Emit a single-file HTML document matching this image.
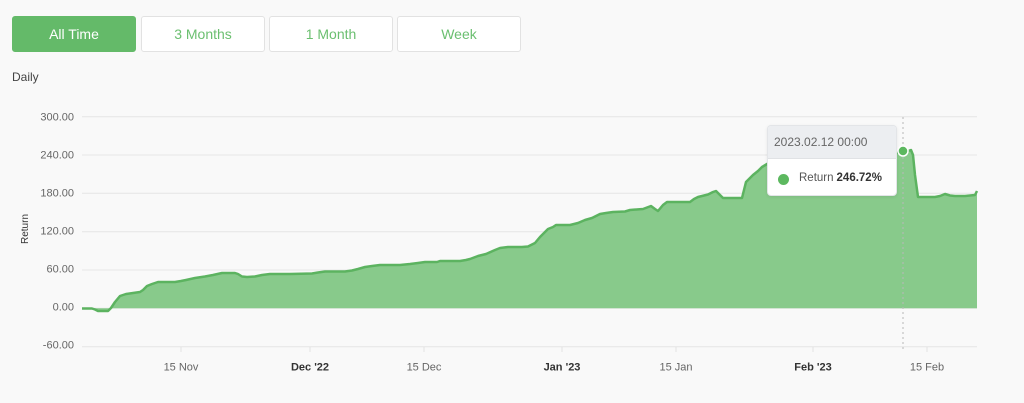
<!DOCTYPE html>
<html>
<head>
<meta charset="utf-8">
<style>
  html,body{margin:0;padding:0;}
  body{width:1024px;height:403px;background:#f9f9f9;font-family:"Liberation Sans",sans-serif;position:relative;overflow:hidden;}
  .btn{position:absolute;top:16px;height:36px;width:124px;box-sizing:border-box;border:1px solid #e2e2e2;border-radius:3px;background:#fff;color:#6bbf70;font-size:14px;line-height:34px;text-align:center;}
  .btn.active{background:#64ba69;border-color:#64ba69;color:#fff;}
  .daily{position:absolute;left:12px;top:70px;font-size:12px;color:#444;}
  svg{position:absolute;left:0;top:0;}
  .tip{position:absolute;left:767px;top:125px;width:130px;height:71px;box-sizing:border-box;background:#fff;border:1px solid #e3e5e8;border-radius:4px;box-shadow:0 1px 3px rgba(0,0,0,0.08);overflow:hidden;}
  .tip .hd{height:32px;background:#eceef1;border-bottom:1px solid #e0e2e5;font-size:12px;color:#666;line-height:32px;padding-left:6px;}
  .tip .bd{position:relative;height:38px;font-size:11.5px;color:#555;}
  .tip .dot{position:absolute;left:10px;top:15px;width:11px;height:11px;border-radius:50%;background:#5cb85f;}
  .tip .lab{position:absolute;left:31px;top:13px;}
  .tip .val{font-weight:bold;color:#333;margin-left:3px;}
</style>
</head>
<body>
<div class="btn active" style="left:12px;">All Time</div>
<div class="btn" style="left:141px;">3 Months</div>
<div class="btn" style="left:269px;">1 Month</div>
<div class="btn" style="left:397px;">Week</div>
<div class="daily">Daily</div>

<svg width="1024" height="403" viewBox="0 0 1024 403">
  <g stroke="#e6e6e6" stroke-width="1">
    <line x1="82" y1="116.7" x2="977" y2="116.7"/>
    <line x1="82" y1="155" x2="977" y2="155"/>
    <line x1="82" y1="193.3" x2="977" y2="193.3"/>
    <line x1="82" y1="231.7" x2="977" y2="231.7"/>
    <line x1="82" y1="270" x2="977" y2="270"/>
    <line x1="82" y1="308.3" x2="977" y2="308.3"/>
    <line x1="82" y1="346.7" x2="977" y2="346.7"/>
  </g>
  <g stroke="#e2e2e2" stroke-width="1">
    <line x1="181" y1="347" x2="181" y2="352"/>
    <line x1="310" y1="347" x2="310" y2="352"/>
    <line x1="424" y1="347" x2="424" y2="352"/>
    <line x1="562" y1="347" x2="562" y2="352"/>
    <line x1="676" y1="347" x2="676" y2="352"/>
    <line x1="813" y1="347" x2="813" y2="352"/>
    <line x1="927" y1="347" x2="927" y2="352"/>
  </g>
  <g font-family="Liberation Sans, sans-serif" font-size="11" fill="#666" text-anchor="end">
    <text x="74" y="120.5">300.00</text>
    <text x="74" y="158.5">240.00</text>
    <text x="74" y="196.5">180.00</text>
    <text x="74" y="234.5">120.00</text>
    <text x="74" y="272.5">60.00</text>
    <text x="74" y="310.5">0.00</text>
    <text x="74" y="348.5">-60.00</text>
  </g>
  <text x="0" y="0" transform="translate(28,229) rotate(-90)" font-family="Liberation Sans, sans-serif" font-size="10" fill="#333" text-anchor="middle">Return</text>
  <g font-family="Liberation Sans, sans-serif" font-size="11" text-anchor="middle">
    <text x="181" y="370.5" fill="#666">15 Nov</text>
    <text x="310" y="370.5" fill="#333" font-weight="bold">Dec '22</text>
    <text x="424" y="370.5" fill="#666">15 Dec</text>
    <text x="562" y="370.5" fill="#333" font-weight="bold">Jan '23</text>
    <text x="676" y="370.5" fill="#666">15 Jan</text>
    <text x="813" y="370.5" fill="#333" font-weight="bold">Feb '23</text>
    <text x="927" y="370.5" fill="#666">15 Feb</text>
  </g>
  <path fill="#88ca8b" stroke="none" d="M82,308.5 L92,308.5 L95,309.5 L98,311 L108,311 L111,308 L115,302 L120,296 L126,294 L133,293 L140,292 L143,290 L147,286 L152,284 L158,282 L175,282 L181,281 L186,280 L195,278 L205,276.5 L213,275 L222,273 L235,273 L238,274 L242,276.5 L247,277 L255,276.5 L262,275 L270,274 L290,274 L312,273.5 L318,272.5 L325,271.5 L345,271.5 L352,270.5 L358,269 L365,267 L372,266 L380,265 L400,265 L410,264 L418,263 L425,262 L437,262 L440,261 L460,261 L466,260 L470,259 L478,256 L486,254 L495,250 L500,248 L508,247 L522,247 L528,246.5 L535,243 L540,237 L545,232 L548,229 L553,227 L556,225 L570,225 L578,223 L585,220 L592,218 L600,214 L606,213 L613,212 L625,211.5 L630,210 L643,209 L647,207.5 L651,206 L655,209 L658,211 L663,205 L667,202 L690,202 L694,199 L698,197 L708,194.5 L713,192 L716,191 L720,195 L723,198 L742,198 L744,190 L746,182 L750,178 L753,175 L758,171 L762,167 L767,164 L780,160 L800,158 L830,156 L860,155 L890,154 L897,153 L903,150.5 L908,151 L911,150 L913,155 L915,175 L918,197 L935,197 L940,196 L945,194 L950,195.5 L955,196 L965,196 L975,195 L977,191 L977,308.3 L82,308.3 Z"/>
  <path fill="none" stroke="#5cb360" stroke-width="2.5" stroke-linejoin="round" d="M82,308.5 L92,308.5 L95,309.5 L98,311 L108,311 L111,308 L115,302 L120,296 L126,294 L133,293 L140,292 L143,290 L147,286 L152,284 L158,282 L175,282 L181,281 L186,280 L195,278 L205,276.5 L213,275 L222,273 L235,273 L238,274 L242,276.5 L247,277 L255,276.5 L262,275 L270,274 L290,274 L312,273.5 L318,272.5 L325,271.5 L345,271.5 L352,270.5 L358,269 L365,267 L372,266 L380,265 L400,265 L410,264 L418,263 L425,262 L437,262 L440,261 L460,261 L466,260 L470,259 L478,256 L486,254 L495,250 L500,248 L508,247 L522,247 L528,246.5 L535,243 L540,237 L545,232 L548,229 L553,227 L556,225 L570,225 L578,223 L585,220 L592,218 L600,214 L606,213 L613,212 L625,211.5 L630,210 L643,209 L647,207.5 L651,206 L655,209 L658,211 L663,205 L667,202 L690,202 L694,199 L698,197 L708,194.5 L713,192 L716,191 L720,195 L723,198 L742,198 L744,190 L746,182 L750,178 L753,175 L758,171 L762,167 L767,164 L780,160 L800,158 L830,156 L860,155 L890,154 L897,153 L903,150.5 L908,151 L911,150 L913,155 L915,175 L918,197 L935,197 L940,196 L945,194 L950,195.5 L955,196 L965,196 L975,195 L977,191"/>
  <line x1="903" y1="117" x2="903" y2="352" stroke="#b8b8b8" stroke-width="1" stroke-dasharray="2,3"/>
  <circle cx="903" cy="151" r="5" fill="#5cb85f" stroke="#fff" stroke-width="1.5"/>
</svg>

<div class="tip">
  <div class="hd">2023.02.12 00:00</div>
  <div class="bd"><div class="dot"></div><div class="lab">Return<span class="val">246.72%</span></div></div>
</div>
</body>
</html>
